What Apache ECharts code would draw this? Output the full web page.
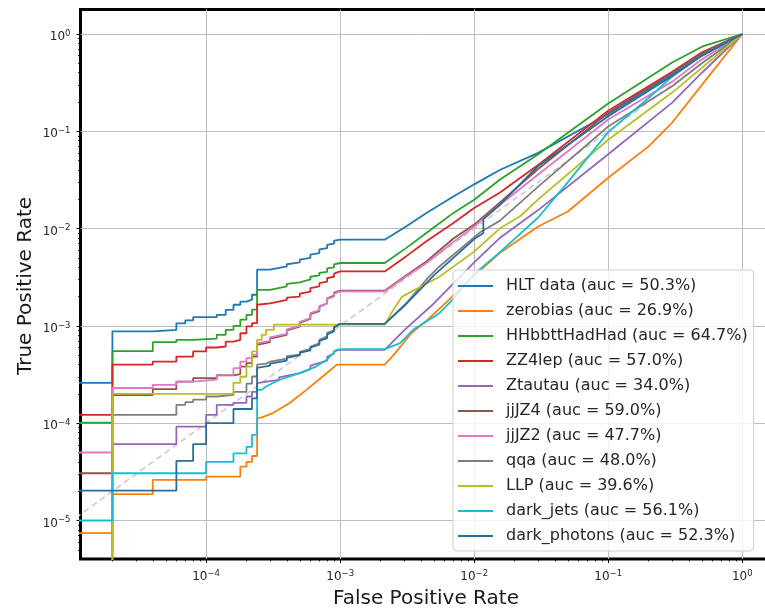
<!DOCTYPE html>
<html><head><meta charset="utf-8">
<script src="https://cdn.jsdelivr.net/npm/echarts@6/dist/echarts.min.js"></script>
<style>html,body{margin:0;padding:0;background:#fff}#c{width:765px;height:608px}</style>
</head><body><div id="c"></div>
<script>
// ---- data ----
const seriesNames = ['HLT data (auc = 50.3%)','zerobias (auc = 26.9%)','HHbbttHadHad (auc = 64.7%)','ZZ4lep (auc = 57.0%)','Ztautau (auc = 34.0%)','jjJZ4 (auc = 59.0%)','jjJZ2 (auc = 47.7%)','qqa (auc = 48.0%)','LLP (auc = 39.6%)','dark_jets (auc = 56.1%)','dark_photons (auc = 52.3%)'];
const xTickValues = [1e-4, 1e-3, 1e-2, 1e-1, 1];
const yTickValues = [1e-5, 1e-4, 1e-3, 1e-2, 1e-1, 1];
const xRange = [1.156e-5, 1.61];
const yRange = [4.02e-6, 1.786];

const hltData = [[1e-6,2.6e-4],[2e-5,2.6e-4],[2e-5,8.8e-4],[4e-5,8.8e-4],[4e-5,9.1e-4],[6e-5,9.1e-4],[6e-5,1.06e-3],[7e-5,1.06e-3],[7e-5,1.14e-3],[8e-5,1.14e-3],[8e-5,1.23e-3],[1.2e-4,1.23e-3],[1.2e-4,1.3e-3],[1.4e-4,1.3e-3],[1.4e-4,1.46e-3],[1.6e-4,1.46e-3],[1.6e-4,1.65e-3],[1.8e-4,1.65e-3],[1.8e-4,1.78e-3],[2e-4,1.78e-3],[2e-4,1.86e-3],[2.2e-4,1.86e-3],[2.2e-4,2.09e-3],[2.4e-4,2.09e-3],[2.4e-4,3.78e-3],[3e-4,3.78e-3],[3e-4,3.96e-3],[4e-4,4.1e-3],[4e-4,4.3e-3],[5e-4,4.5e-3],[5e-4,4.8e-3],[6e-4,5.0e-3],[6e-4,5.4e-3],[7e-4,5.6e-3],[7e-4,6.1e-3],[8e-4,6.3e-3],[8e-4,6.8e-3],[9e-4,7.0e-3],[9e-4,7.5e-3],[1e-3,7.7e-3],[2.15e-3,7.7e-3],[3.1e-3,1.05e-2],[4.4e-3,1.45e-2],[7e-3,2.14e-2],[1e-2,2.85e-2],[1.55e-2,4.0e-2],[3e-2,6.0e-2],[0.1,0.15],[0.3,0.383],[0.5,0.6],[1,1]];
const zerobiasData = [[1e-6,7.4e-6],[2e-5,7.4e-6],[2e-5,1.87e-5],[4e-5,1.87e-5],[4e-5,2.61e-5],[1e-4,2.61e-5],[1e-4,2.82e-5],[1.8e-4,2.82e-5],[1.8e-4,3.58e-5],[2e-4,3.58e-5],[2e-4,4.0e-5],[2.2e-4,4.0e-5],[2.2e-4,4.6e-5],[2.4e-4,4.6e-5],[2.4e-4,1.12e-4],[2.6e-4,1.15e-4],[3.15e-4,1.27e-4],[4.2e-4,1.61e-4],[5.6e-4,2.2e-4],[7.4e-4,3.02e-4],[9.4e-4,3.98e-4],[1e-3,4.0e-4],[2.15e-3,4.0e-4],[2.5e-3,5.0e-4],[3.4e-3,8.4e-4],[4.5e-3,1.16e-3],[6.5e-3,1.86e-3],[1e-2,3.3e-3],[1.55e-2,5.6e-3],[3e-2,1.05e-2],[5e-2,1.5e-2],[0.1,0.0333],[0.2,0.07],[0.3,0.123],[0.5,0.3],[1,1]];
const hhbbttData = [[1e-6,1.01e-4],[2e-5,1.01e-4],[2e-5,5.5e-4],[4e-5,5.5e-4],[4e-5,6.8e-4],[6e-5,6.8e-4],[6e-5,7.2e-4],[8e-5,7.2e-4],[8e-5,7.4e-4],[1.2e-4,7.4e-4],[1.2e-4,8.1e-4],[1.4e-4,8.1e-4],[1.4e-4,9.1e-4],[1.6e-4,9.1e-4],[1.6e-4,1.0e-3],[1.8e-4,1.0e-3],[1.8e-4,1.16e-3],[2e-4,1.16e-3],[2e-4,1.3e-3],[2.2e-4,1.3e-3],[2.2e-4,1.47e-3],[2.4e-4,1.47e-3],[2.4e-4,2.35e-3],[3e-4,2.35e-3],[3e-4,2.45e-3],[4e-4,2.55e-3],[4e-4,2.7e-3],[5e-4,2.8e-3],[5e-4,2.9e-3],[6e-4,3.0e-3],[6e-4,3.2e-3],[7e-4,3.3e-3],[7e-4,3.5e-3],[8e-4,3.6e-3],[8e-4,3.9e-3],[9e-4,4.0e-3],[9e-4,4.3e-3],[1e-3,4.43e-3],[2.15e-3,4.43e-3],[3.1e-3,6.3e-3],[4.4e-3,9.0e-3],[7e-3,1.45e-2],[1e-2,1.98e-2],[1.55e-2,3.18e-2],[3e-2,5.8e-2],[0.1,0.193],[0.3,0.51],[0.5,0.74],[1,1]];
const zz4lepData = [[1e-6,1.22e-4],[2e-5,1.22e-4],[2e-5,4.0e-4],[4e-5,4.0e-4],[4e-5,4.3e-4],[6e-5,4.3e-4],[6e-5,4.84e-4],[8e-5,4.84e-4],[8e-5,5.46e-4],[1e-4,5.46e-4],[1e-4,6.0e-4],[1.2e-4,6.0e-4],[1.2e-4,6.14e-4],[1.4e-4,6.14e-4],[1.4e-4,6.9e-4],[1.6e-4,6.9e-4],[1.6e-4,7.2e-4],[1.8e-4,7.2e-4],[1.8e-4,8.4e-4],[2e-4,8.4e-4],[2e-4,9.9e-4],[2.2e-4,9.9e-4],[2.2e-4,1.07e-3],[2.4e-4,1.07e-3],[2.4e-4,1.65e-3],[3e-4,1.7e-3],[3e-4,1.78e-3],[4e-4,1.85e-3],[4e-4,1.95e-3],[5e-4,2.0e-3],[5e-4,2.15e-3],[6e-4,2.25e-3],[6e-4,2.45e-3],[7e-4,2.55e-3],[7e-4,2.75e-3],[8e-4,2.85e-3],[8e-4,3.1e-3],[9e-4,3.2e-3],[9e-4,3.45e-3],[1e-3,3.63e-3],[2.15e-3,3.63e-3],[3.1e-3,5.18e-3],[4.4e-3,7.4e-3],[7e-3,1.14e-2],[1e-2,1.63e-2],[1.55e-2,2.34e-2],[3e-2,4.5e-2],[0.1,0.163],[0.3,0.41],[0.5,0.65],[1,1]];
const ztautauData = [[2e-5,1e-7],[2e-5,6.1e-5],[6e-5,6.1e-5],[6e-5,9.2e-5],[1e-4,9.2e-5],[1e-4,1.22e-4],[1.2e-4,1.22e-4],[1.2e-4,1.54e-4],[1.6e-4,1.54e-4],[1.6e-4,1.62e-4],[2e-4,1.62e-4],[2e-4,1.88e-4],[2.2e-4,1.88e-4],[2.2e-4,2.1e-4],[2.4e-4,2.1e-4],[2.4e-4,2.58e-4],[3e-4,2.7e-4],[3.5e-4,2.78e-4],[3.5e-4,2.95e-4],[5e-4,3.27e-4],[6e-4,3.6e-4],[6e-4,3.9e-4],[8e-4,4.4e-4],[8e-4,4.8e-4],[9e-4,5.2e-4],[9e-4,5.5e-4],[1e-3,5.68e-4],[2.15e-3,5.68e-4],[3e-3,9e-4],[5e-3,1.7e-3],[1e-2,4.5e-3],[1.55e-2,8e-3],[3e-2,1.55e-2],[0.1,0.058],[0.3,0.197],[0.5,0.4],[1,1]];
const jjjz4Data = [[1e-6,3.06e-5],[2e-5,3.06e-5],[2e-5,1.95e-4],[4e-5,1.95e-4],[4e-5,2.24e-4],[6e-5,2.24e-4],[6e-5,2.68e-4],[8e-5,2.68e-4],[8e-5,2.9e-4],[1.2e-4,2.9e-4],[1.2e-4,3.1e-4],[1.6e-4,3.1e-4],[1.6e-4,3.2e-4],[1.8e-4,3.2e-4],[1.8e-4,3.82e-4],[2e-4,3.82e-4],[2e-4,4.14e-4],[2.2e-4,4.14e-4],[2.2e-4,4.84e-4],[2.4e-4,4.84e-4],[2.4e-4,6.4e-4],[3e-4,6.8e-4],[3e-4,7.4e-4],[4e-4,8.1e-4],[4e-4,9.0e-4],[5e-4,9.8e-4],[5e-4,1.08e-3],[6e-4,1.18e-3],[6e-4,1.32e-3],[7e-4,1.42e-3],[7e-4,1.58e-3],[8e-4,1.7e-3],[8e-4,1.92e-3],[9e-4,2.05e-3],[9e-4,2.2e-3],[1e-3,2.3e-3],[2.15e-3,2.3e-3],[3.1e-3,3.3e-3],[4.4e-3,4.6e-3],[7e-3,7.9e-3],[1e-2,1.1e-2],[1.55e-2,1.85e-2],[3e-2,4.1e-2],[0.1,0.155],[0.3,0.40],[0.5,0.63],[1,1]];
const jjjz2Data = [[1e-6,5.0e-5],[2e-5,5.0e-5],[2e-5,2.3e-4],[4e-5,2.3e-4],[4e-5,2.48e-4],[6e-5,2.48e-4],[6e-5,2.68e-4],[8e-5,2.68e-4],[8e-5,2.75e-4],[1.2e-4,2.8e-4],[1.2e-4,3.14e-4],[1.6e-4,3.14e-4],[1.6e-4,3.68e-4],[1.8e-4,3.68e-4],[1.8e-4,4.3e-4],[2e-4,4.3e-4],[2e-4,4.66e-4],[2.2e-4,4.66e-4],[2.2e-4,5.05e-4],[2.4e-4,5.05e-4],[2.4e-4,6.6e-4],[3e-4,7.0e-4],[3e-4,7.6e-4],[4e-4,8.3e-4],[4e-4,9.2e-4],[5e-4,1.0e-3],[5e-4,1.1e-3],[6e-4,1.2e-3],[6e-4,1.35e-3],[7e-4,1.45e-3],[7e-4,1.6e-3],[8e-4,1.7e-3],[8e-4,1.9e-3],[9e-4,2.0e-3],[9e-4,2.15e-3],[1e-3,2.26e-3],[2.15e-3,2.26e-3],[3.1e-3,3.22e-3],[4.4e-3,4.43e-3],[7e-3,7.3e-3],[1e-2,1.05e-2],[1.55e-2,1.75e-2],[3e-2,3.6e-2],[0.1,0.132],[0.3,0.324],[0.5,0.55],[1,1]];
const qqaData = [[2e-5,1e-7],[2e-5,1.22e-4],[6e-5,1.22e-4],[6e-5,1.54e-4],[7e-5,1.54e-4],[7e-5,1.65e-4],[8e-5,1.65e-4],[8e-5,1.75e-4],[1e-4,1.75e-4],[1e-4,1.88e-4],[1.2e-4,1.88e-4],[1.2e-4,1.95e-4],[1.6e-4,1.95e-4],[1.6e-4,2.1e-4],[2e-4,2.1e-4],[2e-4,2.55e-4],[2.2e-4,2.55e-4],[2.2e-4,3.02e-4],[2.4e-4,3.02e-4],[2.4e-4,4.0e-4],[2.8e-4,4.1e-4],[3e-4,4.3e-4],[4e-4,4.6e-4],[4e-4,4.9e-4],[5e-4,5.05e-4],[5e-4,5.4e-4],[6e-4,5.8e-4],[6e-4,6.1e-4],[7e-4,6.6e-4],[7e-4,7.2e-4],[8e-4,7.8e-4],[8e-4,8.5e-4],[9e-4,9e-4],[9e-4,9.8e-4],[1e-3,1.05e-3],[2.15e-3,1.05e-3],[3.1e-3,1.7e-3],[4.4e-3,3.0e-3],[5.5e-3,4.08e-3],[1.1e-2,9.1e-3],[1.55e-2,1.2e-2],[3e-2,2.7e-2],[0.1,0.112],[0.3,0.29],[0.5,0.5],[1,1]];
const llpData = [[2e-5,1e-7],[2e-5,2.0e-4],[1.6e-4,2.0e-4],[1.6e-4,2.6e-4],[1.8e-4,2.6e-4],[1.8e-4,3.0e-4],[2e-4,3.0e-4],[2e-4,3.82e-4],[2.2e-4,3.82e-4],[2.2e-4,5.46e-4],[2.4e-4,5.46e-4],[2.4e-4,7.2e-4],[2.6e-4,7.2e-4],[2.6e-4,8.1e-4],[2.8e-4,8.1e-4],[2.8e-4,9.1e-4],[3.2e-4,9.1e-4],[3.2e-4,1.03e-3],[2.15e-3,1.03e-3],[2.5e-3,1.47e-3],[2.9e-3,2.0e-3],[5.5e-3,3.2e-3],[1e-2,5.8e-3],[1.55e-2,1.0e-2],[2.2e-2,1.34e-2],[3e-2,2.0e-2],[0.1,0.082],[0.3,0.25],[0.5,0.45],[1,1]];
const darkJetsData = [[1e-6,1.0e-5],[2e-5,1.0e-5],[2e-5,3.06e-5],[1e-4,3.06e-5],[1e-4,4.0e-5],[1.6e-4,4.0e-5],[1.6e-4,4.9e-5],[2e-4,4.9e-5],[2e-4,5.7e-5],[2.2e-4,5.7e-5],[2.2e-4,7.6e-5],[2.4e-4,7.6e-5],[2.4e-4,2.2e-4],[2.6e-4,2.2e-4],[2.6e-4,2.3e-4],[2.8e-4,2.38e-4],[3.5e-4,2.78e-4],[5e-4,3.27e-4],[6.6e-4,3.82e-4],[7.9e-4,4.46e-4],[9.4e-4,5.68e-4],[1e-3,5.77e-4],[2.15e-3,5.77e-4],[2.8e-3,6.65e-4],[3.5e-3,9.1e-4],[5.5e-3,1.35e-3],[6.9e-3,1.86e-3],[1e-2,3.4e-3],[1.55e-2,5.7e-3],[3e-2,1.3e-2],[5e-2,3.0e-2],[0.1,0.098],[0.2,0.22],[0.3,0.365],[0.5,0.6],[1,1]];
const darkPhotonsData = [[1e-6,2.03e-5],[6e-5,2.03e-5],[6e-5,4.1e-5],[8e-5,4.1e-5],[8e-5,6.1e-5],[1e-4,6.1e-5],[1e-4,1.0e-4],[1.6e-4,1.0e-4],[1.6e-4,1.4e-4],[2.2e-4,1.4e-4],[2.2e-4,1.8e-4],[2.4e-4,1.8e-4],[2.4e-4,3.7e-4],[3e-4,3.9e-4],[3e-4,4.1e-4],[4e-4,4.4e-4],[4e-4,4.7e-4],[5e-4,5.0e-4],[5e-4,5.3e-4],[6e-4,5.6e-4],[6e-4,6.0e-4],[7e-4,6.4e-4],[7e-4,7.0e-4],[8e-4,7.5e-4],[8e-4,8.2e-4],[9e-4,8.8e-4],[9e-4,9.6e-4],[1e-3,1.05e-3],[2.15e-3,1.05e-3],[3e-3,1.6e-3],[5e-3,3.3e-3],[1e-2,7.8e-3],[1.17e-2,9.0e-3],[1.17e-2,1.25e-2],[1.55e-2,1.75e-2],[3e-2,4.4e-2],[0.1,0.143],[0.3,0.37],[0.5,0.6],[1,1]];
const diagonalData = [[1e-6,1e-6],[1,1]];

const seriesData = [hltData, zerobiasData, hhbbttData, zz4lepData, ztautauData, jjjz4Data, jjjz2Data, qqaData, llpData, darkJetsData, darkPhotonsData];
const seriesColors = ['#1f77b4','#ff7f0e','#2ca02c','#d62728','#9467bd','#8c564b','#e377c2','#7f7f7f','#bcbd22','#17becf','#2a6d9c'];

// minor tick positions (2..9 x 10^k)
function minors(lo, hi){ const out=[]; for(let e=-7;e<=1;e++){ for(let m=2;m<=9;m++){ const v=m*Math.pow(10,e); if(v>lo && v<hi) out.push(v);} } return out; }

const FONT = 'DejaVu Sans';
function powLabel(v){
  const e = Math.round(Math.log10(v));
  return '{b|10}{s|' + (e < 0 ? '\u2212' + (-e) : String(e)) + '}';
}
const richLab = {
  b: {fontSize: 12, lineHeight: 16, fontFamily: FONT, color: '#262626'},
  s: {fontSize: 8.5, lineHeight: 9, verticalAlign: 'top', fontFamily: FONT, color: '#262626'}
};

const chart = echarts.init(document.getElementById('c'), null, {renderer: 'canvas'});
const series = [{
  name: 'diag', type: 'line', data: diagonalData, symbol: 'none', silent: true,
  lineStyle: {color: '#c8c8c8', width: 1.5, type: [6, 4]}, z: 1
}];
seriesNames.forEach((n, i) => {
  series.push({
    name: n, type: 'line', data: seriesData[i], symbol: 'none', clip: true,
    lineStyle: {color: seriesColors[i], width: 1.8}, itemStyle: {color: seriesColors[i]}, z: 2
  });
});

chart.setOption({
  animation: false,
  backgroundColor: '#fff',
  grid: {left: 80.5, top: 9.5, width: 689.5, height: 549.5, outerBoundsMode: 'none', containLabel: false,
    show: true, borderColor: '#000', borderWidth: 3, backgroundColor: 'transparent'},
  xAxis: [{
    type: 'log', min: xRange[0], max: xRange[1], gridIndex: 0,
    axisLine: {show: false},
    axisTick: {show: true, length: 4, customValues: xTickValues, lineStyle: {color: '#000', width: 1}},
    axisLabel: {customValues: xTickValues, formatter: powLabel, rich: richLab, margin: 10},
    splitLine: {show: true, lineStyle: {color: '#bdbdbd', width: 1}},
    minorTick: {show: false}, minorSplitLine: {show: false}
  }, {
    type: 'log', min: xRange[0], max: xRange[1], gridIndex: 0, position: 'bottom',
    axisLine: {show: false},
    axisTick: {show: true, length: 2.5, customValues: minors(xRange[0], xRange[1]), lineStyle: {color: '#000', width: 0.8}},
    axisLabel: {show: false}, splitLine: {show: false}
  }],
  yAxis: [{
    type: 'log', min: yRange[0], max: yRange[1], gridIndex: 0,
    axisLine: {show: false},
    axisTick: {show: true, length: 4, customValues: yTickValues, lineStyle: {color: '#000', width: 1}},
    axisLabel: {customValues: yTickValues, formatter: powLabel, rich: richLab, margin: 10, padding: [6, 0, 0, 0]},
    splitLine: {show: true, lineStyle: {color: '#bdbdbd', width: 1}}
  }, {
    type: 'log', min: yRange[0], max: yRange[1], gridIndex: 0, position: 'left',
    axisLine: {show: false},
    axisTick: {show: true, length: 2.5, customValues: minors(yRange[0], yRange[1]), lineStyle: {color: '#000', width: 0.8}},
    axisLabel: {show: false}, splitLine: {show: false}
  }],
  legend: {
    data: seriesNames.map(n => ({name: n, icon: 'path://M0 0H36V2.2H0Z'})),
    orient: 'vertical', left: 453, top: 270, symbolKeepAspect: true,
    padding: [8, 6, 7, 5], itemWidth: 35, itemHeight: 16, itemGap: 9,
    backgroundColor: 'rgba(255,255,255,0.8)', borderColor: '#d0d0d0', borderWidth: 1, borderRadius: 4,
    textStyle: {fontFamily: FONT, fontSize: 16, color: '#262626', lineHeight: 16, padding: [0, 0, 0, 8]},
    selectedMode: false
  },
  graphic: [
    {type: 'text', x: 426, y: 599, silent: true,
      style: {text: 'False Positive Rate', font: '20px "DejaVu Sans"', fill: '#1a1a1a', align: 'center', verticalAlign: 'middle', textAlign: 'center', textVerticalAlign: 'middle'}},
    {type: 'text', x: 25.5, y: 286, rotation: Math.PI / 2, silent: true,
      style: {text: 'True Positive Rate', font: '20px "DejaVu Sans"', fill: '#1a1a1a', align: 'center', verticalAlign: 'middle', textAlign: 'center', textVerticalAlign: 'middle'}}
  ],
  series: series
});
</script></body></html>
